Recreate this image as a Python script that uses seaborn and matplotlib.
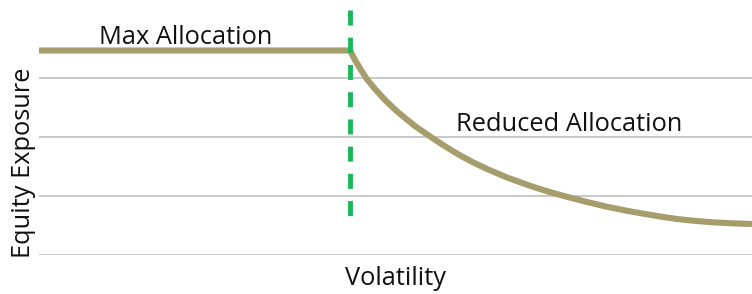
import matplotlib
matplotlib.use("Agg")
import matplotlib.pyplot as plt
import numpy as np
import pandas as pd
import seaborn as sns

# allocation curve (volatility 0-100, exposure in grid units)
volatility = [0, 43.62, 44.32, 45.16, 46.00, 47.13, 48.53, 49.93, 51.33, 52.73,
              54.14, 55.12, 56.52, 58.06, 59.47, 60.87, 62.83, 65.64, 68.86,
              71.25, 73.77, 76.58, 79.38, 82.19, 84.99, 87.10, 89.48, 92.01,
              94.53, 97.19, 100]
exposure = [3.466, 3.466, 3.305, 3.136, 2.978, 2.814, 2.627, 2.466, 2.322, 2.186,
            2.068, 1.988, 1.876, 1.759, 1.661, 1.571, 1.458, 1.314, 1.173,
            1.081, 0.995, 0.907, 0.825, 0.756, 0.695, 0.653, 0.610, 0.578,
            0.554, 0.537, 0.525]

# volatility threshold marker (drawn top to bottom)
threshold_x = [43.62, 43.62]
threshold_y = [4.15, 0.63]

grid_levels = [0, 1, 2, 3]

labels = ["Max Allocation", "Reduced Allocation"]
label_x = [20.6, 74.3]
label_y = [3.69, 2.21]

sns.set_theme(style="white")
plt.rcParams["font.family"] = ["Open Sans", "DejaVu Sans"]

df = pd.DataFrame({"Volatility": volatility, "Exposure": exposure})

fig = plt.figure(figsize=(7.52, 2.94), dpi=100)
ax = fig.add_axes([39 / 752, 1 - 255 / 294, 1 - 39 / 752, 255 / 294])

for lvl in grid_levels:
    ax.axhline(lvl, color="#c4c4c4", lw=1.3, zorder=0)

sns.lineplot(data=df, x="Volatility", y="Exposure", color="#a69d6c", lw=4.4,
             estimator=None, sort=False, ax=ax, zorder=2,
             solid_joinstyle="round", solid_capstyle="butt")
ax.plot(threshold_x, threshold_y, color="#19b95a", lw=3.5, dashes=(3.1, 2.5),
        solid_capstyle="butt", dash_capstyle="butt", zorder=3)

for txt, x, y in zip(labels, label_x, label_y):
    ax.text(x, y, txt, ha="center", va="center", fontsize=18.3, color="#111111")

ax.set_xlim(0, 100)
ax.set_ylim(0, 255 / 59)
ax.set_xticks([])
ax.set_yticks([])
for s in ax.spines.values():
    s.set_visible(False)

ax.set_xlabel("Volatility", fontsize=18.3, color="#111111")
ax.set_ylabel("Equity Exposure", fontsize=18.3, color="#111111")
ax.xaxis.set_label_coords(0.5, -0.045)
ax.yaxis.set_label_coords(-0.004, 0.363)

fig.savefig("out.png", dpi=100)
